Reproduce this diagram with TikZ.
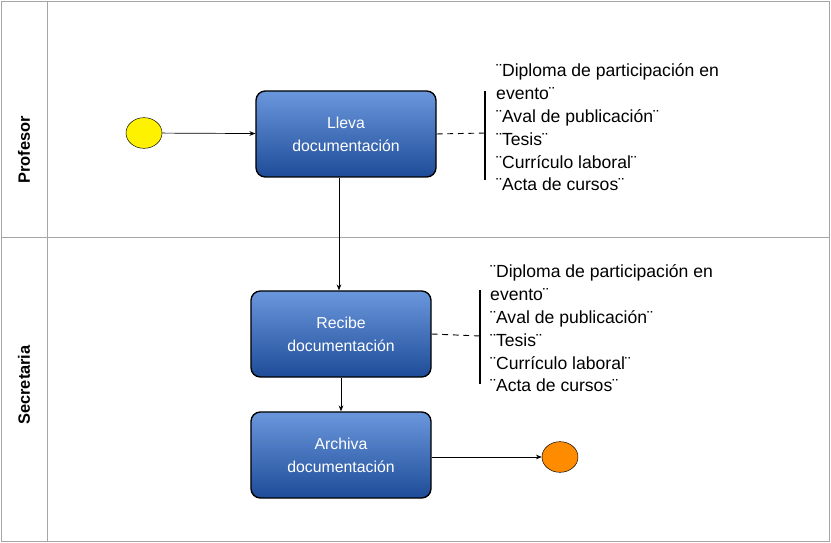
\documentclass[tikz,border=0pt]{standalone}
\usepackage{fontspec}
\setmainfont{Liberation Sans}
\usetikzlibrary{arrows.meta,shapes.geometric}
\definecolor{taskTop}{HTML}{6A97DC}
\definecolor{taskBot}{HTML}{1E4C98}
\begin{document}
\begin{tikzpicture}[x=0.03cm,y=-0.03cm,
    task/.style={draw=black,line width=1.2pt,rounded corners=8pt,top color=taskTop,bottom color=taskBot,
      text=white,align=center,font=\fontsize{13.5pt}{19.5pt}\selectfont,minimum width=5.4cm,minimum height=2.58cm},
    note/.style={align=left,anchor=north west,inner sep=0pt,font=\fontsize{15pt}{19.6pt}\selectfont},
    flow/.style={-{Stealth[length=5pt,width=4pt]},line width=0.6pt},
    assoc/.style={dashed,line width=0.8pt,dash pattern=on 5pt off 4pt}]
    % pool and lanes
    \useasboundingbox (0,0) rectangle (831,543);
    \draw[gray!70,line width=0.8pt] (1,1) rectangle (829,541);
    \draw[gray!70,line width=0.8pt] (47,1) -- (47,541);
    \draw[gray!70,line width=0.8pt] (1,237) -- (829,237);
    \node[rotate=90,font=\bfseries\fontsize{14pt}{16pt}\selectfont] (profesor) at (24,150) {Profesor};
    \node[rotate=90,font=\bfseries\fontsize{14pt}{16pt}\selectfont] (secretaria) at (24,385) {Secretaria};
    % events and tasks
    \node[draw=black,fill=yellow,ellipse,minimum width=1.08cm,minimum height=0.92cm,inner sep=0pt] (inicio) at (144,133) {};
    \node[task] (lleva) at (346,134) {Lleva\\documentación};
    \node[task] (recibe) at (341,334) {Recibe\\documentación};
    \node[task] (archiva) at (341,455) {Archiva\\documentación};
    \node[draw=black,fill=orange!90!yellow,ellipse,minimum width=1.08cm,minimum height=0.92cm,inner sep=0pt] (fin) at (560,457) {};
    % flows
    \draw[flow] (inicio) -- (lleva);
    \draw[flow] (lleva.south -| 339,0) -- (recibe.north -| 339,0);
    \draw[flow] (recibe) -- (archiva);
    \draw[flow] (archiva.east |- fin) -- (fin);
    % annotations
    \coordinate (notaA) at (485,133);
    \coordinate (notaB) at (480,336);
    \draw[line width=1pt] (485,91) -- (485,180);
    \draw[line width=1pt] (480,290) -- (480,384);
    \draw[assoc] (lleva.east) -- (notaA);
    \draw[assoc] (recibe.east) -- (notaB);
    \node[note] (textoA) at (496,63) {¨Diploma de participación en\\evento¨\\¨Aval de publicación¨\\¨Tesis¨\\¨Currículo laboral¨\\¨Acta de cursos¨};
    \node[note] (textoB) at (490,264) {¨Diploma de participación en\\evento¨\\¨Aval de publicación¨\\¨Tesis¨\\¨Currículo laboral¨\\¨Acta de cursos¨};
\end{tikzpicture}
\end{document}
